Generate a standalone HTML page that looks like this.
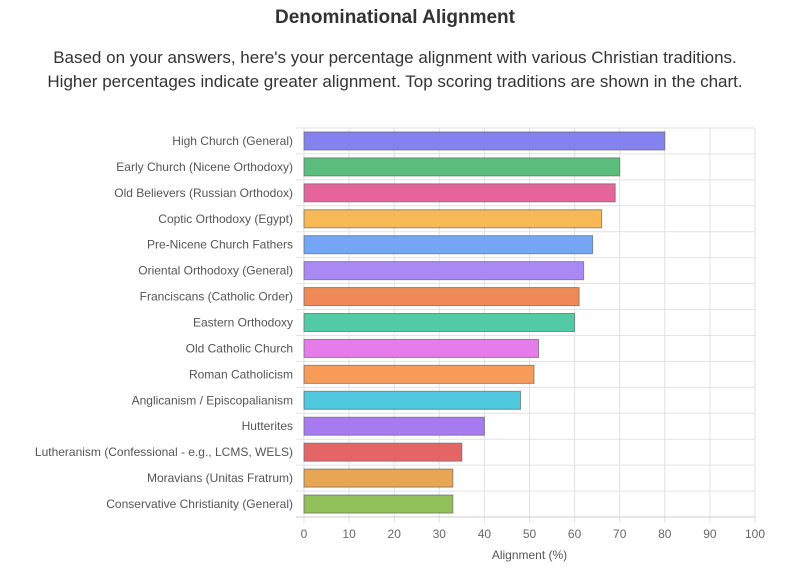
<!DOCTYPE html>
<html><head><meta charset="utf-8"><style>
body{margin:0;background:#fff;width:790px;height:579px;overflow:hidden;font-family:"Liberation Sans",sans-serif}
h1{position:absolute;top:7px;left:0;width:790px;text-align:center;font-size:19px;font-weight:bold;color:#333;margin:0}
.sub{position:absolute;top:46px;left:0;width:790px;text-align:center;font-size:17px;color:#333;line-height:24px}
</style></head><body>
<h1>Denominational Alignment</h1>
<div class="sub">Based on your answers, here's your percentage alignment with various Christian traditions.<br>Higher percentages indicate greater alignment. Top scoring traditions are shown in the chart.</div>
<svg id="c" width="790" height="579" style="position:absolute;left:0;top:0"></svg>
<script>
const categories=["High Church (General)","Early Church (Nicene Orthodoxy)","Old Believers (Russian Orthodox)","Coptic Orthodoxy (Egypt)","Pre-Nicene Church Fathers","Oriental Orthodoxy (General)","Franciscans (Catholic Order)","Eastern Orthodoxy","Old Catholic Church","Roman Catholicism","Anglicanism / Episcopalianism","Hutterites","Lutheranism (Confessional - e.g., LCMS, WELS)","Moravians (Unitas Fratrum)","Conservative Christianity (General)"];
const values=[80,70,69,66,64,62,61,60,52,51,48,40,35,33,33];
const colors=["#8482ef","#5bbd7e","#e5649b","#f6b955","#74a6f5","#a98af5","#ef8a58","#52cba4","#e57ce9","#f79b59","#4fc7dd","#a77bf0","#e56567","#e8a552","#91bf59"];
const ticks=[0,10,20,30,40,50,60,70,80,90,100];
const svg=document.getElementById('c'),NS='http://www.w3.org/2000/svg';
const L=304,R=755,T=128,B=517,rh=(B-T)/categories.length;
const x=v=>L+(R-L)*v/100, y=i=>T+rh*i;
function mk(t,a,p){const e=document.createElementNS(NS,t);for(const k in a)e.setAttribute(k,a[k]);(p||svg).appendChild(e);return e;}
ticks.forEach(t=>{
 const l=mk('line',{x1:x(t),x2:x(t),y1:T,y2:B+6,stroke:'#e2e2e2'});
 
 
 const tx=mk('text',{x:x(t),y:538,'text-anchor':'middle','font-size':12,fill:'#666'});tx.textContent=t;
 
 
});
for(let i=0;i<=categories.length;i++){
 const l=mk('line',{x1:296,x2:R,y1:y(i),y2:y(i),stroke:i==categories.length?'#ccc':'#e2e2e2'});
 
 
}
categories.forEach((c,i)=>{
 const cy=y(i)+rh/2;
 const r=mk('rect',{x:L,y:cy-9,width:x(values[i])-L,height:18,fill:colors[i],stroke:'#666','stroke-opacity':0.7,'stroke-width':1});
 
 
 const t=mk('text',{x:293,y:cy+4,'text-anchor':'end','font-size':12,fill:'#555'});t.textContent=c;
 
 
});
const at=mk('text',{x:(L+R)/2,y:559,'text-anchor':'middle','font-size':12,fill:'#555'});at.textContent='Alignment (%)';


</script>
</body></html>
